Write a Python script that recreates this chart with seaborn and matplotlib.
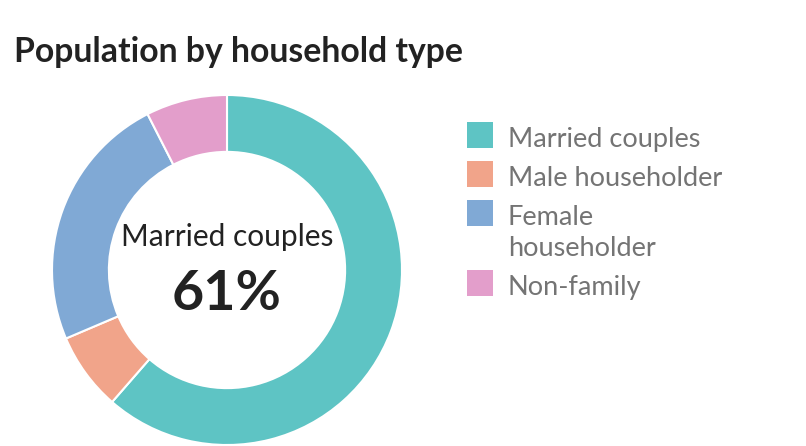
import matplotlib
matplotlib.use('Agg')
import matplotlib.pyplot as plt
from matplotlib.patches import Rectangle
import seaborn as sns

# data
categories = ["Married couples", "Male householder", "Female householder", "Non-family"]
legend_labels = ["Married couples", "Male householder", "Female\nhouseholder", "Non-family"]
shares = [61.4, 7.2, 23.9, 7.5]
colors = ["#5ec4c4", "#f1a48a", "#80a9d5", "#e39ecb"]

W, H = 806, 446

sns.set_theme(style="white")
plt.rcParams['font.family'] = ['Lato', 'DejaVu Sans']

fig = plt.figure(figsize=(W / 100, H / 100), dpi=100)
fig.patch.set_facecolor('white')

# donut
ax = fig.add_axes([52 / W, 1 / H, 350 / W, 350 / H])
wedges, _ = ax.pie(shares, colors=colors, startangle=90, counterclock=False,
                   radius=1.0,
                   wedgeprops=dict(width=0.325, edgecolor='white', linewidth=1.5))
ax.set_xlim(-1, 1)
ax.set_ylim(-1, 1)
ax.set_aspect('equal')
ax.axis('off')

# centre label for the largest slice
top = max(range(len(shares)), key=lambda i: shares[i])
ax.text(0, 0.137, categories[top], ha='center', va='baseline',
        fontsize=21.5, color='#222222')
ax.text(0, -0.229, f"{round(shares[top])}%", ha='center', va='baseline',
        fontsize=40, fontweight='bold', color='#222222')

# title
fig.text(14 / W, 1 - 62 / H, "Population by household type", ha='left', va='baseline',
         fontsize=24.3, fontweight='bold', color='#222222')

# legend (drawn by hand so the square sits on the first line of a wrapped label)
sq = 26
row_gap = 39
line_gap = 31
y_top = 122
extra = 0
for i, (lab, col) in enumerate(zip(legend_labels, colors)):
    y = y_top + row_gap * i + line_gap * extra
    fig.patches.append(Rectangle((467 / W, 1 - (y + sq) / H), sq / W, sq / H,
                                 transform=fig.transFigure, facecolor=col,
                                 edgecolor='none'))
    lines = lab.split("\n")
    for j, line in enumerate(lines):
        fig.text(508 / W, 1 - (y + sq - 1 + line_gap * j) / H, line,
                 ha='left', va='baseline', fontsize=19.5, color='#747474')
    extra += len(lines) - 1

fig.savefig('out.png', dpi=100, facecolor='white')
